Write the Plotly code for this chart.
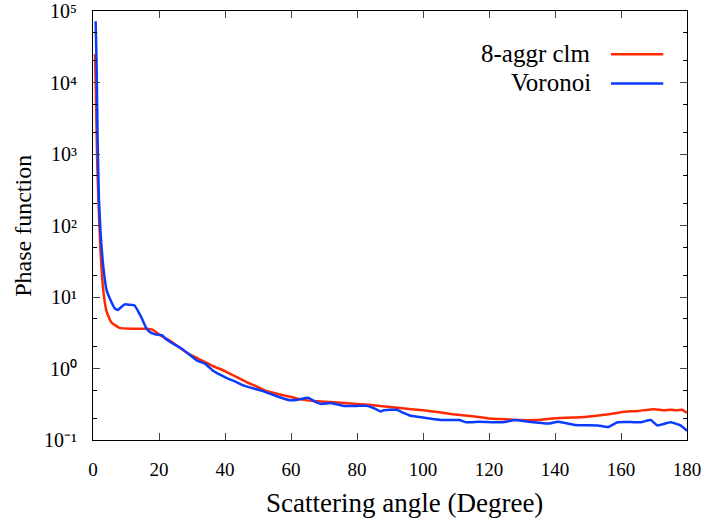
import plotly.graph_objects as go

red_x = [0.5, 0.6, 0.9, 1.3, 1.7, 2.3, 3.1, 4.1, 5.6, 8, 12, 16, 18, 20, 23, 26.3, 29, 32.3, 36, 40, 43, 46.7, 50, 52.7, 56, 60, 63, 67, 72, 80, 87, 93, 100, 105, 109, 115, 120, 125, 129, 134, 139, 144, 149, 155, 160, 165, 170, 173, 175, 177, 178.5, 180]
red_y = [2.5e4, 2.4e4, 5.8e3, 6.8e2, 1.9e2, 42, 12.6, 6.3, 4.4, 3.7, 3.6, 3.6, 3.5, 3.0, 2.5, 1.95, 1.6, 1.34, 1.1, 0.92, 0.78, 0.64, 0.55, 0.48, 0.44, 0.40, 0.37, 0.35, 0.34, 0.32, 0.30, 0.28, 0.26, 0.245, 0.23, 0.215, 0.20, 0.195, 0.19, 0.19, 0.20, 0.205, 0.21, 0.225, 0.245, 0.255, 0.27, 0.26, 0.265, 0.26, 0.265, 0.24]

blue_x = [0.8, 1.1, 1.4, 1.8, 2.3, 3.1, 4.1, 5.1, 6.6, 7.6, 8.5, 9.6, 11, 12.6, 14.1, 15, 16.1, 17, 18.9, 21, 22, 23.5, 26.5, 28.5, 31.5, 34, 36.5, 40.4, 43, 46, 51, 55, 59.6, 62, 65.2, 67, 69, 72, 76, 80, 83, 85, 87.2, 88, 92, 94, 96, 99, 102, 106, 111, 113, 117, 124, 128, 132, 138, 141, 146, 153, 156, 159, 163, 166, 169, 171, 175, 178, 180]
blue_y = [7.2e4, 1.7e4, 1.6e3, 230, 79, 27, 12.6, 9.5, 6.9, 6.6, 7.2, 7.9, 7.8, 7.6, 5.8, 4.8, 3.7, 3.3, 3.0, 2.9, 2.6, 2.33, 1.95, 1.66, 1.29, 1.16, 0.92, 0.74, 0.66, 0.57, 0.49, 0.42, 0.36, 0.365, 0.39, 0.35, 0.32, 0.33, 0.30, 0.30, 0.30, 0.28, 0.25, 0.26, 0.265, 0.24, 0.22, 0.21, 0.20, 0.19, 0.19, 0.177, 0.18, 0.177, 0.19, 0.18, 0.17, 0.18, 0.162, 0.16, 0.152, 0.177, 0.178, 0.177, 0.19, 0.16, 0.177, 0.16, 0.135]

series_names = ["8-aggr clm", "Voronoi"]
series_colors = ["#ff2a00", "#0a3cff"]

x_ticks = [0, 20, 40, 60, 80, 100, 120, 140, 160, 180]
y_tickvals = [0.1, 1, 10, 100, 1e3, 1e4, 1e5]
y_ticktext = ["10⁻¹", "10⁰", "10¹", "10²", "10³", "10⁴", "10⁵"]
y_minor = [m * 10 ** e for e in range(-1, 5) for m in (2, 5)]

x_title = "Scattering angle (Degree)"
y_title = "Phase function"

FONT = "Liberation Serif"

fig = go.Figure()
for xs, ys, name, col in [(red_x, red_y, series_names[0], series_colors[0]),
                          (blue_x, blue_y, series_names[1], series_colors[1])]:
    fig.add_trace(go.Scatter(x=xs, y=ys, mode="lines", name=name,
                             line=dict(color=col, width=2.5, shape="spline", smoothing=0.4),
                             showlegend=False))

# legend drawn as text followed by line sample (gnuplot style)
for i, (name, col) in enumerate(zip(series_names, series_colors)):
    yy = 0.901 - i * 0.068
    fig.add_annotation(xref="paper", yref="paper", x=0.842, y=yy, text=name,
                       showarrow=False, xanchor="right", yanchor="middle",
                       font=dict(family=FONT, size=25, color="black"))
    fig.add_shape(type="line", xref="paper", yref="paper",
                  x0=0.872, x1=0.960, y0=yy - 0.002, y1=yy - 0.002,
                  line=dict(color=col, width=2.5))

# axis titles
fig.add_annotation(xref="paper", yref="paper", x=0.5236, y=-0.147, text=x_title,
                   showarrow=False, xanchor="center", yanchor="middle",
                   font=dict(family=FONT, size=27, color="black"))
fig.add_annotation(xref="paper", yref="paper", x=-0.118, y=0.499, text=y_title,
                   showarrow=False, xanchor="center", yanchor="middle", textangle=-90,
                   font=dict(family=FONT, size=24, color="black"))

fig.update_xaxes(range=[0, 180], tickvals=x_ticks, ticks="inside", ticklen=7,
                 showline=True, linecolor="black", linewidth=1, mirror="ticks",
                 showgrid=False, zeroline=False, automargin=False,
                 ticklabeloverflow="allow", ticklabelstandoff=12,
                 tickfont=dict(family=FONT, size=19, color="black"))
fig.update_yaxes(type="log", range=[-1, 5], tickvals=y_tickvals, ticktext=y_ticktext,
                 ticks="inside", ticklen=7,
                 minor=dict(tickvals=y_minor, ticks="inside", ticklen=4, tickcolor="black"),
                 showline=True, linecolor="black", linewidth=1, mirror="ticks",
                 showgrid=False, zeroline=False, automargin=False,
                 ticklabeloverflow="allow", ticklabelstandoff=11,
                 tickfont=dict(family=FONT, size=20, color="black"))

fig.update_layout(width=707, height=525, margin=dict(l=93, r=20, t=11, b=85),
                  plot_bgcolor="white", paper_bgcolor="white")

fig.write_html("out.html", config={"displayModeBar": False},
               post_script="document.body.style.margin='0';document.body.style.padding='0';")
